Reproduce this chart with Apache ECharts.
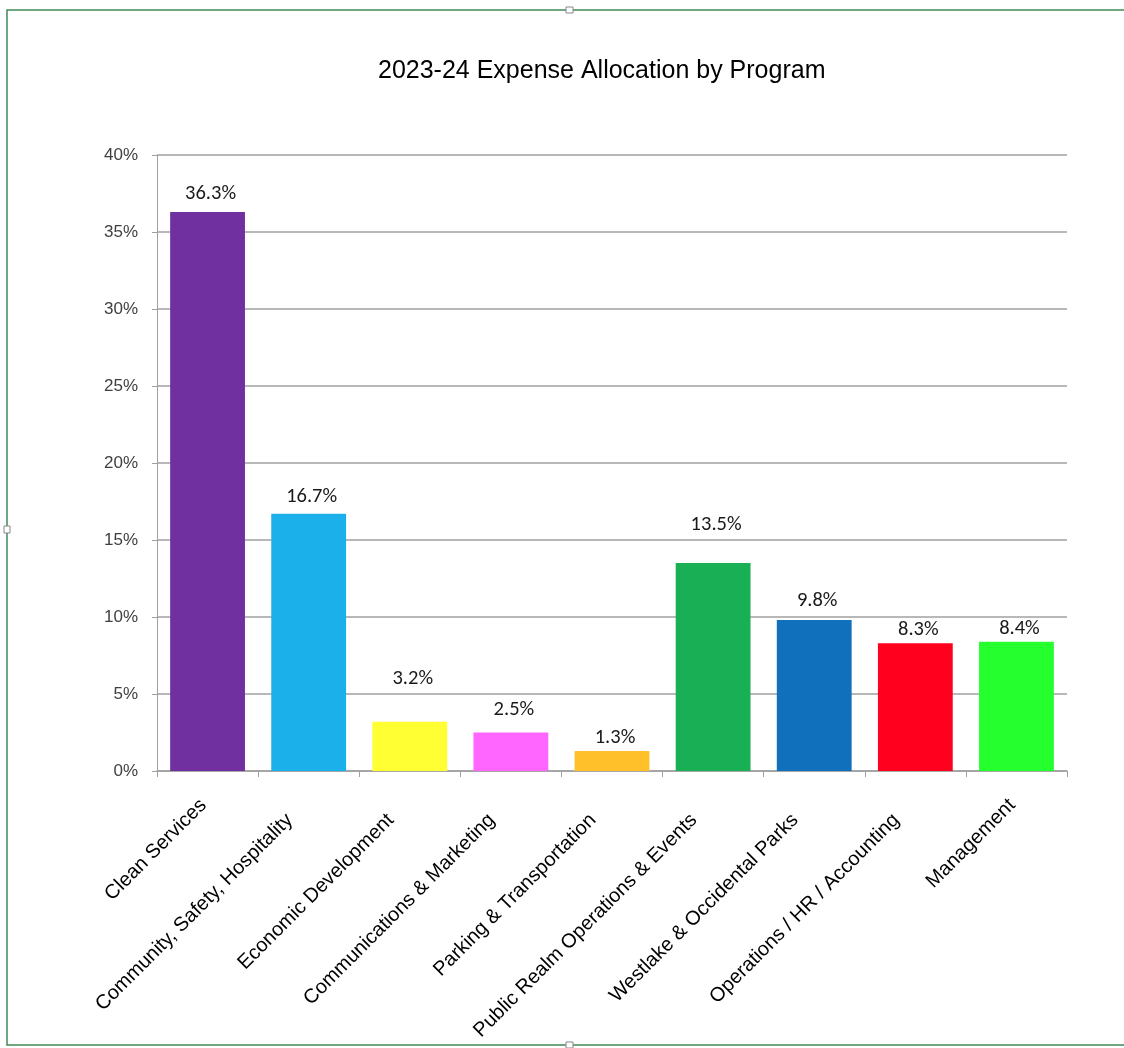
<!DOCTYPE html>
<html>
<head>
<meta charset="utf-8">
<title>2023-24 Expense Allocation by Program</title>
<script src="https://cdn.jsdelivr.net/npm/echarts@6/dist/echarts.min.js"></script>
<style>
    html, body { margin: 0; padding: 0; background: #fff; }
    #chart { width: 1124px; height: 1048px; }
</style>
</head>
<body>
<div id="chart"></div>
<script>
// chart data
var programs = [
    'Clean Services',
    'Community, Safety, Hospitality',
    'Economic Development',
    'Communications & Marketing',
    'Parking & Transportation',
    'Public Realm Operations & Events',
    'Westlake & Occidental Parks',
    'Operations / HR / Accounting',
    'Management'
];
var shares = [36.3, 16.7, 3.2, 2.5, 1.3, 13.5, 9.8, 8.3, 8.4];
var barColors = ['#7030A0', '#1CB0EB', '#FFFF33', '#FF66FF', '#FFC02A', '#18AF55', '#1070BC', '#FF001E', '#26FF2E'];
var yTicks = [0, 5, 10, 15, 20, 25, 30, 35, 40];

// label gap above each bar (Excel placed them unevenly)
var labelGap = [8, 6, 32, 12, 3, 28, 9, 3, 2];

var myChart = echarts.init(document.getElementById('chart'));

var seriesData = shares.map(function (v, i) {
    return {
        value: v,
        itemStyle: { color: barColors[i] },
        label: { distance: labelGap[i] }
    };
});

var xFont = 'Liberation Sans, Arial';

var option = {
    backgroundColor: '#fff',
    animation: false,
    title: {
        text: '2023-24 Expense Allocation by Program',
        left: 373,
        top: 54,
        textStyle: {
            fontFamily: 'Liberation Sans, Arial',
            fontSize: 25,
            fontWeight: 'normal',
            color: '#000'
        }
    },
    grid: {
        left: 157,
        right: 57,
        top: 155,
        bottom: 277
    },
    xAxis: {
        type: 'category',
        data: programs,
        axisLine: { lineStyle: { color: '#a0a0a0', width: 1.5 } },
        axisTick: { show: true, length: 6, lineStyle: { color: '#a0a0a0' } },
        axisLabel: {
            rotate: 45,
            interval: 0,
            margin: 27,
            // shortest labels sit a bit higher in the original
            formatter: function (v, i) {
                return (i === 0 || i === programs.length - 1) ? '{s|' + v + '}' : '{l|' + v + '}';
            },
            rich: {
                s: { fontFamily: xFont, fontSize: 20, color: '#000', padding: [0, 6, 0, 0] },
                l: { fontFamily: xFont, fontSize: 20, color: '#000', padding: [0, 27, 0, 0] }
            }
        }
    },
    yAxis: {
        type: 'value',
        min: yTicks[0],
        max: yTicks[yTicks.length - 1],
        interval: 5,
        axisLine: { show: true, lineStyle: { color: '#a0a0a0', width: 1 } },
        axisTick: { show: true, length: 5, lineStyle: { color: '#a0a0a0' } },
        splitLine: { lineStyle: { color: '#a0a0a0', width: 1.5 } },
        axisLabel: {
            margin: 19,
            color: '#404040',
            fontFamily: 'Liberation Sans, Arial',
            fontSize: 17,
            formatter: '{value}%'
        }
    },
    series: [{
        type: 'bar',
        data: seriesData,
        barCategoryGap: '26%',
        label: {
            show: true,
            position: 'top',
            offset: [3, 0],
            color: '#1a1a1a',
            fontFamily: 'Carlito, Lato, sans-serif',
            fontSize: 20.5,
            formatter: function (p) { return p.value.toFixed(1) + '%'; }
        }
    }],
    graphic: [
        {
            type: 'rect',
            shape: { x: 7, y: 10, width: 1140, height: 1035 },
            style: { fill: 'none', stroke: '#3f8a55', lineWidth: 1.5 },
            silent: true
        },
        {
            type: 'rect',
            shape: { x: 566, y: 7, width: 7, height: 6 },
            style: { fill: '#fff', stroke: '#888', lineWidth: 1 }
        },
        {
            type: 'rect',
            shape: { x: 4, y: 526, width: 6, height: 7 },
            style: { fill: '#fff', stroke: '#888', lineWidth: 1 }
        },
        {
            type: 'rect',
            shape: { x: 566, y: 1042, width: 7, height: 6 },
            style: { fill: '#fff', stroke: '#888', lineWidth: 1 }
        }
    ]
};

myChart.setOption(option);
</script>
</body>
</html>
